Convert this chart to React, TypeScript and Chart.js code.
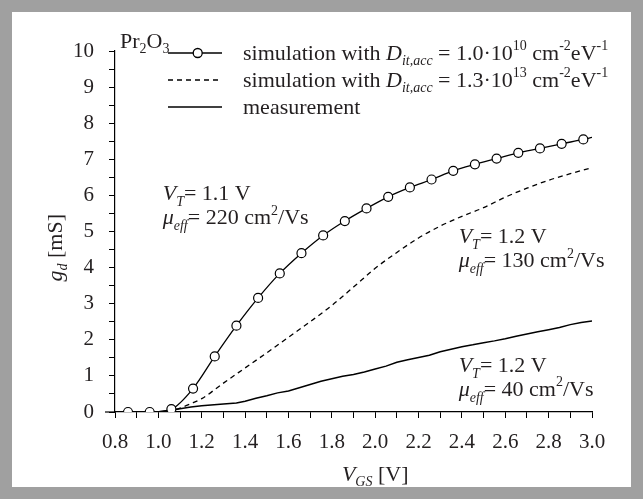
import React, { useEffect, useRef } from "react";
import { Chart, registerables } from "chart.js";

Chart.register(...registerables);

// ---- data ----
const simLowDitV = [0.8, 0.86, 0.96, 1.06, 1.16, 1.26, 1.36, 1.46, 1.56, 1.66, 1.76, 1.86, 1.96, 2.06, 2.16, 2.26, 2.36, 2.46, 2.56, 2.66, 2.76, 2.86, 2.96, 3.0];
const simLowDitG = [0, 0, 0, 0.08, 0.65, 1.54, 2.39, 3.16, 3.84, 4.4, 4.89, 5.29, 5.64, 5.96, 6.22, 6.44, 6.68, 6.86, 7.02, 7.18, 7.3, 7.43, 7.55, 7.61];

const simHighDitV = [1.0, 1.05, 1.1, 1.15, 1.2, 1.3, 1.4, 1.5, 1.6, 1.7, 1.8, 1.9, 2.0, 2.1, 2.2, 2.3, 2.4, 2.5, 2.6, 2.7, 2.8, 2.9, 3.0];
const simHighDitG = [0, 0.03, 0.11, 0.23, 0.37, 0.8, 1.22, 1.64, 2.07, 2.5, 2.95, 3.46, 3.98, 4.42, 4.82, 5.15, 5.42, 5.66, 5.95, 6.2, 6.42, 6.6, 6.77];

const measV = [0.9, 1.0, 1.05, 1.1, 1.15, 1.2, 1.3, 1.36, 1.4, 1.45, 1.5, 1.55, 1.6, 1.65, 1.7, 1.75, 1.8, 1.85, 1.9, 1.95, 2.0, 2.05, 2.1, 2.15, 2.2, 2.25, 2.3, 2.35, 2.4, 2.45, 2.5, 2.55, 2.6, 2.65, 2.7, 2.75, 2.8, 2.85, 2.9, 2.95, 3.0];
const measG = [0, 0.01, 0.04, 0.09, 0.14, 0.17, 0.22, 0.25, 0.3, 0.38, 0.45, 0.53, 0.58, 0.67, 0.76, 0.85, 0.92, 0.99, 1.04, 1.11, 1.19, 1.27, 1.38, 1.45, 1.51, 1.57, 1.67, 1.74, 1.81, 1.86, 1.92, 1.97, 2.03, 2.1, 2.16, 2.22, 2.28, 2.34, 2.42, 2.48, 2.52];

const xMin = 0.8;
const xMax = 3.0;
const yMin = 0;
const yMax = 10;

const FAM = "'Liberation Serif', 'Times New Roman', 'DejaVu Serif', serif";
const INK = "#231f20";
const OFF = 12; // frame thickness

type Seg = { t: string; it?: boolean; pos?: "sub" | "sup" };

function drawRich(ctx: CanvasRenderingContext2D, x: number, y: number, segs: Seg[], size: number, align: "left" | "center" = "left") {
  const small = Math.round(size * 0.64);
  const fontFor = (s: Seg) => `${s.it ? "italic " : ""}${s.pos ? small : size}px ${FAM}`;
  const widths = segs.map((s) => {
    ctx.font = fontFor(s);
    return ctx.measureText(s.t).width;
  });
  const total = widths.reduce((a, b) => a + b, 0);
  let cx = align === "center" ? x - total / 2 : x;
  ctx.textBaseline = "alphabetic";
  ctx.textAlign = "left";
  ctx.fillStyle = INK;
  segs.forEach((s, i) => {
    ctx.font = fontFor(s);
    const dy = s.pos === "sub" ? size * 0.24 : s.pos === "sup" ? -size * 0.45 : 0;
    ctx.fillText(s.t, cx, y + dy);
    cx += widths[i];
  });
}

const textPlugin = {
  id: "richText",
  afterDraw(chart: any) {
    const ctx: CanvasRenderingContext2D = chart.ctx;
    const xs = chart.scales.x;
    const ys = chart.scales.y;
    const F = 22;
    ctx.save();

    // short extension of the x-axis to the left of the y-axis
    ctx.strokeStyle = "#000";
    ctx.lineWidth = 1.2;
    ctx.beginPath();
    ctx.moveTo(chart.chartArea.left - 10, ys.getPixelForValue(0));
    ctx.lineTo(chart.chartArea.left, ys.getPixelForValue(0));
    ctx.stroke();

    // Pr2O3
    drawRich(ctx, 120 - OFF, 48 - OFF, [{ t: "Pr" }, { t: "2", pos: "sub" }, { t: "O" }, { t: "3", pos: "sub" }], F);

    // legend
    const rows = [53, 80, 107].map((v) => v - OFF);
    const lx0 = 168 - OFF;
    const lx1 = 222 - OFF;
    const tx = 243 - OFF;
    ctx.strokeStyle = "#000";
    ctx.lineWidth = 1.3;
    ctx.setLineDash([]);
    ctx.beginPath();
    ctx.moveTo(lx0, rows[0]);
    ctx.lineTo(lx1, rows[0]);
    ctx.stroke();
    ctx.beginPath();
    ctx.arc(lx0 + (lx1 - lx0) * 0.55, rows[0], 4.5, 0, Math.PI * 2);
    ctx.fillStyle = "#fff";
    ctx.fill();
    ctx.stroke();
    ctx.setLineDash([5, 4]);
    ctx.beginPath();
    ctx.moveTo(lx0, rows[1]);
    ctx.lineTo(lx1, rows[1]);
    ctx.stroke();
    ctx.setLineDash([]);
    ctx.lineWidth = 1.5;
    ctx.beginPath();
    ctx.moveTo(lx0, rows[2]);
    ctx.lineTo(lx1, rows[2]);
    ctx.stroke();

    const simText = (pre: string, exp: string): Seg[] => [
      { t: "simulation with " },
      { t: "D", it: true },
      { t: "it,acc", it: true, pos: "sub" },
      { t: ` = ${pre}·10` },
      { t: exp, pos: "sup" },
      { t: " cm" },
      { t: "-2", pos: "sup" },
      { t: "eV" },
      { t: "-1", pos: "sup" },
    ];
    drawRich(ctx, tx, rows[0] + 7, simText("1.0", "10"), F);
    drawRich(ctx, tx, rows[1] + 7, simText("1.3", "13"), F);
    drawRich(ctx, tx, rows[2] + 7, [{ t: "measurement" }], F);

    // annotations
    const ann = (v: number, g: number, vt: string, mu: string) => {
      const x = xs.getPixelForValue(v);
      const y = ys.getPixelForValue(g);
      drawRich(ctx, x, y, [{ t: "V", it: true }, { t: "T", it: true, pos: "sub" }, { t: `= ${vt} V` }], F);
      drawRich(ctx, x, y + 24, [{ t: "μ", it: true }, { t: "eff", it: true, pos: "sub" }, { t: `= ${mu} cm` }, { t: "2", pos: "sup" }, { t: "/Vs" }], F);
    };
    ann(1.02, 5.86, "1.1", "220");
    ann(2.385, 4.67, "1.2", "130");
    ann(2.385, 1.1, "1.2", "40");

    // axis titles
    drawRich(ctx, xs.getPixelForValue(2.0), 481 - OFF, [{ t: "V", it: true }, { t: "GS", it: true, pos: "sub" }, { t: " [V]" }], F, "center");
    ctx.save();
    ctx.translate(62 - OFF, ys.getPixelForValue(4.55));
    ctx.rotate(-Math.PI / 2);
    drawRich(ctx, 0, 0, [{ t: "g", it: true }, { t: "d", it: true, pos: "sub" }, { t: " [mS]" }], F, "center");
    ctx.restore();

    ctx.restore();
  },
};

export default function App() {
  const ref = useRef<HTMLCanvasElement>(null);
  useEffect(() => {
    const toPts = (xs: number[], ys: number[]) => xs.map((x, i) => ({ x, y: ys[i] }));
    const tickFont = { family: FAM, size: 21 };
    const chart = new Chart(ref.current!, {
      type: "line",
      data: {
        datasets: [
          {
            label: "simulation with Dit,acc = 1.0·10^10 cm^-2eV^-1",
            data: toPts(simLowDitV, simLowDitG),
            borderColor: "#000",
            borderWidth: 1.3,
            cubicInterpolationMode: "monotone",
            pointRadius: (c: any) => (c.dataIndex === 0 || c.dataIndex === simLowDitV.length - 1 ? 0 : 4.5),
            pointBackgroundColor: "#fff",
            pointBorderColor: "#000",
            pointBorderWidth: 1.2,
            fill: false,
          },
          {
            label: "simulation with Dit,acc = 1.3·10^13 cm^-2eV^-1",
            data: toPts(simHighDitV, simHighDitG),
            borderColor: "#000",
            borderWidth: 1.3,
            borderDash: [5, 4],
            cubicInterpolationMode: "monotone",
            pointRadius: 0,
            fill: false,
          },
          {
            label: "measurement",
            data: toPts(measV, measG),
            borderColor: "#000",
            borderWidth: 1.5,
            tension: 0,
            pointRadius: 0,
            fill: false,
          },
        ],
      },
      options: {
        animation: false,
        responsive: false,
        layout: { padding: { left: 0, right: 631 - 592, top: 51 - OFF, bottom: 0 } },
        plugins: { legend: { display: false }, tooltip: { enabled: false } },
        scales: {
          x: {
            type: "linear",
            min: xMin,
            max: xMax,
            afterFit: (s: any) => {
              s.height = 487 - 412;
            },
            ticks: {
              stepSize: 0.1,
              autoSkip: false,
              maxRotation: 0,
              minRotation: 0,
              color: INK,
              font: tickFont,
              padding: 12,
              callback: (v: any) => (Math.round(Number(v) * 10) % 2 === 0 ? Number(v).toFixed(1) : ""),
            },
            grid: { drawOnChartArea: false, drawTicks: true, tickLength: 6, color: "#000", lineWidth: 1 },
            border: { display: true, color: "#000", width: 1.2 },
          },
          y: {
            type: "linear",
            min: yMin,
            max: yMax,
            afterFit: (s: any) => {
              s.width = 115 - OFF;
            },
            ticks: {
              stepSize: 0.5,
              autoSkip: false,
              color: INK,
              font: tickFont,
              padding: 15,
              callback: (v: any) => (Math.abs(Number(v) - Math.round(Number(v))) < 1e-6 ? String(Math.round(Number(v))) : ""),
            },
            grid: { drawOnChartArea: false, drawTicks: true, tickLength: 6, color: "#000", lineWidth: 1 },
            border: { display: true, color: "#000", width: 1.2 },
          },
        },
      },
      plugins: [textPlugin],
    } as any);
    return () => chart.destroy();
  }, []);

  return (
    <div
      style={{
        position: "fixed",
        left: 0,
        top: 0,
        width: 643,
        height: 499,
        boxSizing: "border-box",
        border: `${OFF}px solid #a0a0a0`,
        background: "#fff",
      }}
    >
      <canvas ref={ref} width={643 - 2 * OFF} height={499 - 2 * OFF} style={{ display: "block" }} />
    </div>
  );
}
